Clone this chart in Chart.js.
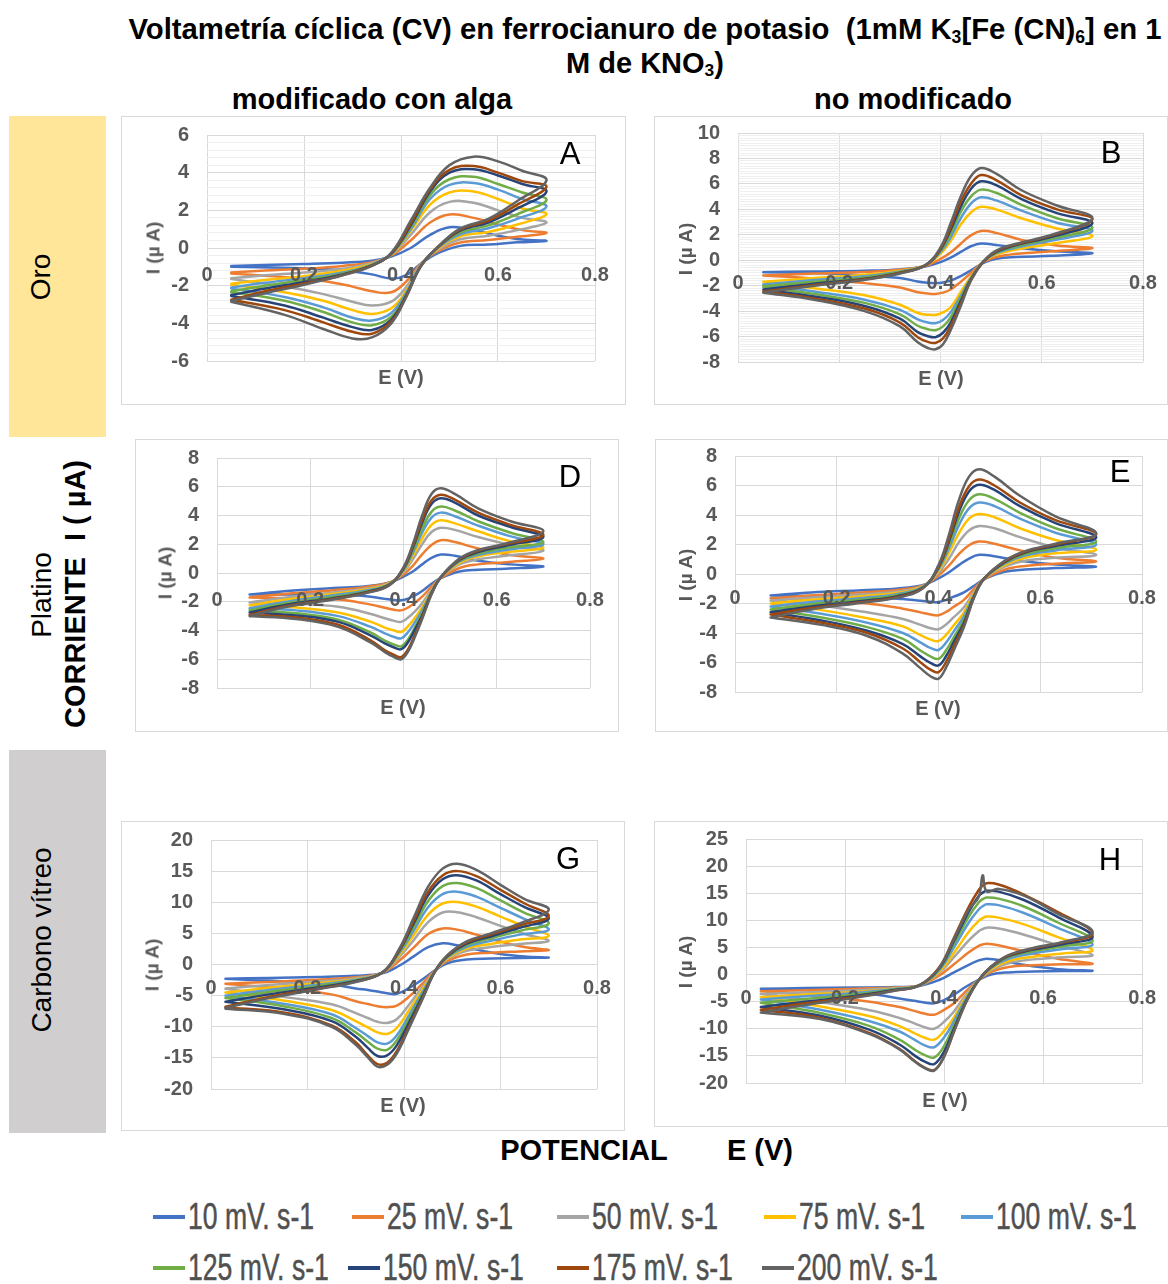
<!DOCTYPE html>
<html lang="es">
<head>
<meta charset="utf-8">
<title>Voltametría cíclica</title>
<script src="https://cdn.jsdelivr.net/npm/chart.js@4.4.1/dist/chart.umd.min.js"></script>
<style>
  html, body { margin: 0; padding: 0; background: #fff; }
  body { position: relative; width: 1168px; height: 1284px; overflow: hidden; font-family: "Liberation Sans", Arial, sans-serif; color: #000; }
  .t { position: absolute; white-space: pre; transform: translate(-50%, -50%); line-height: 1; z-index: 3; }
  .rot { transform: translate(-50%, -50%) rotate(-90deg); }
  .bold { font-weight: bold; }
  .panel { position: absolute; border: 1px solid #d9d9d9; box-sizing: border-box; background: #fff; }
  .panel canvas { position: absolute; left: -1px; top: -1px; }
  .axt { color: #595959; font-weight: bold; font-size: 20px; }
  .letter { font-size: 31px; }
  sub { font-size: 0.6em; vertical-align: -0.2em; line-height: 0; }
  .legline { position: absolute; height: 4px; width: 32px; }
  .legtxt { position: absolute; font-family: "Liberation Sans Narrow", "Liberation Sans", Arial, sans-serif; font-size: 36px; line-height: 36px; color: #505050; white-space: pre; transform-origin: 0 50%; -webkit-text-stroke: 0.5px #505050; }
</style>
</head>
<body>
<div class="t bold" style="left:645px;top:29px;font-size:29.3px">Voltametría cíclica (CV) en ferrocianuro de potasio  (1mM K<sub>3</sub>[Fe (CN)<sub>6</sub>] en 1</div>
<div class="t bold" style="left:645px;top:63px;font-size:29px">M de KNO<sub>3</sub>)</div>
<div class="t bold" style="left:372px;top:99px;font-size:29px">modificado con alga</div>
<div class="t bold" style="left:913px;top:99px;font-size:29px">no modificado</div>

<div style="position:absolute;left:9px;top:116px;width:97px;height:321px;background:#FFE699"></div>
<div style="position:absolute;left:9px;top:750px;width:97px;height:383px;background:#D0CECE"></div>
<div class="t rot" style="left:41px;top:277px;font-size:28px">Oro</div>
<div class="t rot" style="left:42px;top:595px;font-size:28px">Platino</div>
<div class="t rot bold" style="left:75px;top:594px;font-size:29px">CORRIENTE  I ( µA)</div>
<div class="t rot" style="left:42px;top:940px;font-size:28px">Carbono vítreo</div>

<div class="t bold" style="left:584px;top:1150px;font-size:29px">POTENCIAL</div>
<div class="t bold" style="left:760px;top:1150px;font-size:29px">E (V)</div>

<script>
// scan rates and their series colours
const scanRates = ['10 mV. s-1', '25 mV. s-1', '50 mV. s-1', '75 mV. s-1', '100 mV. s-1',
                   '125 mV. s-1', '150 mV. s-1', '175 mV. s-1', '200 mV. s-1'];
const seriesColors = ['#4472C4', '#ED7D31', '#A5A5A5', '#FFC000', '#5B9BD5',
                      '#70AD47', '#264478', '#9E480E', '#636363'];

const xTickLabels = [0, 0.2, 0.4, 0.6, 0.8];

// ---- A: oro, modificado con alga (I in µA) ----
const yTicksA = [-6, -4, -2, 0, 2, 4, 6];
const eFwdA = [0.05, 0.12, 0.20, 0.28, 0.34, 0.38, 0.42, 0.46, 0.50, 0.55, 0.60, 0.65, 0.70];
const eRevA = [0.64, 0.58, 0.52, 0.47, 0.44, 0.41, 0.38, 0.34, 0.30, 0.24, 0.16, 0.05];
const fwdA = [
  [-0.95, -0.9, -0.85, -0.78, -0.68, -0.45, 0.0, 0.7, 1.1, 0.95, 0.65, 0.45, 0.38],
  [-1.3, -1.2, -1.1, -0.95, -0.75, -0.4, 0.4, 1.35, 1.78, 1.6, 1.25, 0.95, 0.8],
  [-1.6, -1.45, -1.3, -1.1, -0.8, -0.35, 0.7, 1.9, 2.45, 2.4, 2.0, 1.6, 1.35],
  [-1.9, -1.7, -1.5, -1.2, -0.85, -0.35, 0.9, 2.3, 2.95, 3.0, 2.6, 2.1, 1.8],
  [-2.1, -1.85, -1.6, -1.3, -0.88, -0.33, 1.0, 2.6, 3.35, 3.45, 3.1, 2.6, 2.2],
  [-2.3, -2.0, -1.7, -1.35, -0.9, -0.32, 1.1, 2.8, 3.65, 3.78, 3.4, 2.95, 2.55],
  [-2.5, -2.15, -1.8, -1.4, -0.92, -0.3, 1.2, 3.0, 4.0, 4.18, 3.85, 3.4, 3.0],
  [-2.75, -2.3, -1.88, -1.43, -0.93, -0.28, 1.3, 3.1, 4.15, 4.35, 4.0, 3.55, 3.25],
  [-2.8, -2.4, -1.95, -1.45, -0.95, -0.25, 1.45, 3.2, 4.4, 4.85, 4.6, 4.1, 3.6]
];
const revA = [
  [0.3, 0.18, 0.1, -0.35, -0.85, -1.45, -1.62, -1.4, -1.25, -1.12, -1.05, -1.0],
  [0.6, 0.42, 0.28, -0.25, -0.85, -1.8, -2.35, -2.3, -2.05, -1.75, -1.55, -1.35],
  [0.95, 0.65, 0.45, -0.2, -0.9, -2.1, -2.85, -3.05, -2.85, -2.45, -2.05, -1.65],
  [1.25, 0.85, 0.6, -0.15, -0.95, -2.3, -3.2, -3.5, -3.3, -2.8, -2.35, -1.95],
  [1.55, 1.05, 0.7, -0.1, -0.95, -2.4, -3.45, -3.85, -3.7, -3.15, -2.6, -2.15],
  [1.8, 1.2, 0.8, -0.1, -1.0, -2.5, -3.65, -4.1, -3.95, -3.4, -2.8, -2.35],
  [2.1, 1.35, 0.9, -0.1, -1.0, -2.55, -3.8, -4.35, -4.2, -3.7, -3.05, -2.55],
  [2.3, 1.45, 0.95, -0.1, -1.0, -2.6, -3.9, -4.55, -4.45, -3.95, -3.3, -2.75],
  [2.5, 1.55, 1.0, -0.1, -1.0, -2.65, -4.0, -4.75, -4.8, -4.3, -3.55, -2.85]
];

// ---- B: oro, no modificado (no 50 mV/s trace) ----
const yTicksB = [-8, -6, -4, -2, 0, 2, 4, 6, 8, 10];
const eFwdB = [0.05, 0.15, 0.25, 0.32, 0.37, 0.40, 0.42, 0.44, 0.46, 0.48, 0.51, 0.56, 0.63, 0.70];
const eRevB = [0.62, 0.55, 0.51, 0.485, 0.46, 0.44, 0.42, 0.405, 0.39, 0.375, 0.355, 0.32, 0.25, 0.15, 0.05];
const fwdB = [
  [-0.95, -0.88, -0.82, -0.72, -0.5, -0.15, 0.2, 0.65, 1.1, 1.32, 1.2, 0.95, 0.7, 0.55],
  [-1.2, -1.05, -0.92, -0.75, -0.45, 0.1, 0.6, 1.3, 1.95, 2.3, 2.15, 1.6, 1.15, 0.95],
  null,
  [-1.7, -1.4, -1.15, -0.82, -0.4, 0.5, 1.5, 2.8, 3.75, 4.2, 4.0, 3.3, 2.5, 1.9],
  [-1.9, -1.55, -1.25, -0.88, -0.4, 0.65, 1.8, 3.3, 4.45, 4.95, 4.7, 3.9, 2.95, 2.3],
  [-2.05, -1.7, -1.35, -0.92, -0.4, 0.75, 2.1, 3.8, 5.0, 5.55, 5.3, 4.35, 3.3, 2.55],
  [-2.3, -1.85, -1.45, -0.98, -0.4, 0.85, 2.4, 4.2, 5.6, 6.2, 5.9, 4.8, 3.7, 2.9],
  [-2.45, -1.95, -1.5, -1.0, -0.4, 0.9, 2.6, 4.6, 6.0, 6.7, 6.3, 5.1, 4.0, 3.2],
  [-2.55, -2.0, -1.55, -1.05, -0.4, 1.0, 2.9, 5.0, 6.6, 7.25, 6.8, 5.5, 4.3, 3.3]
];
const revB = [
  [0.35, 0.25, 0.12, -0.2, -0.8, -1.25, -1.6, -1.75, -1.8, -1.77, -1.67, -1.4, -1.2, -1.0, -0.95],
  [0.7, 0.5, 0.25, -0.15, -1.0, -1.7, -2.3, -2.55, -2.65, -2.62, -2.52, -2.15, -1.8, -1.45, -1.2],
  null,
  [1.3, 0.85, 0.45, -0.1, -1.3, -2.5, -3.7, -4.1, -4.3, -4.28, -4.15, -3.5, -2.75, -2.2, -1.7],
  [1.55, 1.0, 0.55, -0.1, -1.4, -2.8, -4.1, -4.7, -4.95, -4.9, -4.65, -3.9, -3.1, -2.45, -1.9],
  [1.7, 1.1, 0.6, -0.1, -1.45, -3.0, -4.5, -5.2, -5.5, -5.42, -5.15, -4.25, -3.35, -2.65, -2.1],
  [1.85, 1.2, 0.65, -0.1, -1.5, -3.2, -4.9, -5.7, -6.05, -5.97, -5.65, -4.6, -3.6, -2.85, -2.3],
  [1.95, 1.25, 0.7, -0.1, -1.55, -3.4, -5.2, -6.15, -6.5, -6.42, -6.05, -4.9, -3.8, -3.0, -2.45],
  [2.0, 1.3, 0.75, -0.1, -1.6, -3.6, -5.5, -6.6, -7.0, -6.9, -6.45, -5.2, -4.0, -3.1, -2.55]
];

// ---- D: platino, modificado con alga ----
const yTicksD = [-8, -6, -4, -2, 0, 2, 4, 6, 8];
const eFwdD = [0.07, 0.15, 0.25, 0.32, 0.37, 0.40, 0.42, 0.44, 0.46, 0.48, 0.51, 0.56, 0.63, 0.70];
const eRevD = [0.62, 0.56, 0.52, 0.48, 0.46, 0.44, 0.425, 0.41, 0.395, 0.38, 0.36, 0.33, 0.26, 0.17, 0.07];
const fwdD = [
  [-1.5, -1.25, -1.05, -0.92, -0.65, -0.25, 0.1, 0.6, 1.05, 1.28, 1.2, 0.85, 0.6, 0.45],
  [-1.7, -1.45, -1.2, -0.97, -0.65, -0.1, 0.5, 1.3, 1.95, 2.28, 2.15, 1.7, 1.25, 1.0],
  [-2.05, -1.7, -1.35, -1.08, -0.7, 0.05, 0.95, 2.0, 2.85, 3.15, 3.0, 2.5, 1.95, 1.55],
  [-2.25, -1.85, -1.45, -1.15, -0.72, 0.12, 1.2, 2.4, 3.35, 3.67, 3.45, 2.9, 2.2, 1.75],
  [-2.45, -2.0, -1.55, -1.22, -0.75, 0.2, 1.4, 2.8, 3.85, 4.2, 3.95, 3.3, 2.55, 2.0],
  [-2.6, -2.1, -1.65, -1.28, -0.78, 0.25, 1.55, 3.1, 4.25, 4.62, 4.35, 3.6, 2.8, 2.15],
  [-2.75, -2.2, -1.75, -1.33, -0.8, 0.3, 1.75, 3.5, 4.8, 5.2, 4.9, 4.0, 3.2, 2.5],
  [-2.9, -2.3, -1.8, -1.37, -0.83, 0.35, 1.85, 3.7, 5.05, 5.45, 5.1, 4.2, 3.35, 2.65],
  [-3.0, -2.35, -1.85, -1.4, -0.85, 0.4, 2.0, 4.0, 5.5, 5.9, 5.5, 4.5, 3.6, 2.9]
];
const revD = [
  [0.3, 0.22, 0.1, -0.35, -0.75, -1.25, -1.55, -1.78, -1.9, -1.88, -1.8, -1.65, -1.5, -1.5, -1.5],
  [0.75, 0.6, 0.35, -0.35, -0.95, -1.65, -2.05, -2.4, -2.6, -2.56, -2.42, -2.2, -1.85, -1.75, -1.7],
  [1.2, 0.95, 0.6, -0.3, -1.15, -2.1, -2.65, -3.1, -3.4, -3.33, -3.15, -2.85, -2.35, -2.15, -2.05],
  [1.45, 1.15, 0.7, -0.3, -1.25, -2.4, -3.1, -3.7, -4.1, -4.0, -3.8, -3.4, -2.75, -2.4, -2.25],
  [1.6, 1.25, 0.8, -0.3, -1.3, -2.6, -3.4, -4.1, -4.55, -4.45, -4.2, -3.75, -3.0, -2.6, -2.45],
  [1.75, 1.35, 0.85, -0.3, -1.35, -2.8, -3.75, -4.6, -5.1, -4.98, -4.7, -4.15, -3.25, -2.8, -2.6],
  [1.9, 1.45, 0.9, -0.3, -1.4, -2.95, -3.9, -4.8, -5.3, -5.18, -4.9, -4.35, -3.4, -2.95, -2.75],
  [2.0, 1.55, 0.95, -0.3, -1.45, -3.1, -4.25, -5.3, -5.85, -5.7, -5.38, -4.7, -3.6, -3.1, -2.9],
  [2.05, 1.6, 1.0, -0.3, -1.5, -3.2, -4.4, -5.45, -6.0, -5.85, -5.5, -4.85, -3.75, -3.2, -3.0]
];

// ---- E: platino, no modificado ----
const yTicksE = [-8, -6, -4, -2, 0, 2, 4, 6, 8];
const eFwdE = [0.07, 0.15, 0.25, 0.32, 0.37, 0.40, 0.42, 0.44, 0.46, 0.48, 0.51, 0.56, 0.63, 0.71];
const eRevE = [0.63, 0.57, 0.53, 0.49, 0.47, 0.45, 0.43, 0.415, 0.40, 0.385, 0.365, 0.33, 0.26, 0.17, 0.07];
const fwdE = [
  [-1.45, -1.25, -1.1, -0.98, -0.75, -0.3, 0.1, 0.6, 1.05, 1.3, 1.2, 0.9, 0.65, 0.5],
  [-1.65, -1.45, -1.25, -1.08, -0.78, -0.1, 0.55, 1.35, 1.95, 2.2, 2.05, 1.6, 1.1, 0.85],
  [-1.8, -1.6, -1.38, -1.18, -0.8, 0.08, 1.0, 2.15, 2.95, 3.25, 3.1, 2.5, 1.8, 1.3],
  [-2.0, -1.75, -1.5, -1.27, -0.82, 0.2, 1.4, 2.75, 3.75, 4.07, 3.85, 3.1, 2.3, 1.65],
  [-2.2, -1.9, -1.62, -1.35, -0.85, 0.32, 1.7, 3.3, 4.45, 4.84, 4.6, 3.75, 2.8, 2.0],
  [-2.4, -2.05, -1.73, -1.43, -0.88, 0.4, 1.95, 3.75, 5.0, 5.4, 5.1, 4.15, 3.1, 2.2],
  [-2.6, -2.2, -1.83, -1.5, -0.9, 0.45, 2.15, 4.2, 5.6, 6.05, 5.7, 4.6, 3.45, 2.5],
  [-2.75, -2.3, -1.9, -1.55, -0.93, 0.5, 2.3, 4.5, 5.95, 6.4, 6.0, 4.85, 3.65, 2.7],
  [-2.95, -2.4, -1.95, -1.6, -0.95, 0.6, 2.6, 5.0, 6.6, 7.1, 6.6, 5.3, 3.9, 2.75]
];
const revE = [
  [0.4, 0.3, 0.15, -0.35, -0.8, -1.25, -1.54, -1.76, -1.9, -1.88, -1.82, -1.7, -1.55, -1.5, -1.45],
  [0.7, 0.55, 0.3, -0.35, -1.0, -1.75, -2.22, -2.57, -2.8, -2.75, -2.6, -2.35, -2.0, -1.8, -1.65],
  [1.1, 0.9, 0.5, -0.3, -1.2, -2.25, -2.93, -3.42, -3.75, -3.68, -3.45, -3.05, -2.6, -2.15, -1.8],
  [1.4, 1.1, 0.6, -0.3, -1.3, -2.6, -3.48, -4.12, -4.55, -4.45, -4.15, -3.55, -3.0, -2.45, -2.0],
  [1.6, 1.25, 0.7, -0.3, -1.4, -2.85, -3.89, -4.64, -5.15, -5.03, -4.65, -4.0, -3.3, -2.7, -2.2],
  [1.75, 1.35, 0.75, -0.3, -1.45, -3.1, -4.29, -5.17, -5.75, -5.6, -5.2, -4.4, -3.6, -2.95, -2.4],
  [1.9, 1.45, 0.8, -0.3, -1.5, -3.3, -4.6, -5.56, -6.2, -6.05, -5.6, -4.75, -3.85, -3.15, -2.6],
  [2.0, 1.5, 0.85, -0.3, -1.55, -3.45, -4.89, -5.95, -6.65, -6.5, -6.0, -5.05, -4.0, -3.3, -2.75],
  [2.05, 1.55, 0.9, -0.3, -1.6, -3.6, -5.18, -6.33, -7.1, -6.95, -6.4, -5.4, -4.2, -3.45, -2.95]
];

// ---- G: carbono vítreo, modificado con alga ----
const yTicksG = [-20, -15, -10, -5, 0, 5, 10, 15, 20];
const eFwdG = [0.03, 0.12, 0.22, 0.30, 0.355, 0.39, 0.42, 0.45, 0.48, 0.51, 0.55, 0.60, 0.65, 0.70];
const eRevG = [0.64, 0.58, 0.53, 0.49, 0.465, 0.44, 0.41, 0.385, 0.365, 0.345, 0.325, 0.30, 0.25, 0.15, 0.03];
const fwdG = [
  [-2.3, -2.15, -2.0, -1.8, -1.4, -0.2, 1.3, 2.8, 3.4, 3.1, 2.4, 1.7, 1.3, 1.1],
  [-3.1, -2.8, -2.45, -2.05, -1.35, 0.6, 2.7, 4.9, 5.8, 5.6, 4.8, 3.7, 2.8, 2.3],
  [-3.85, -3.3, -2.75, -2.2, -1.3, 1.2, 3.9, 6.8, 8.35, 8.4, 7.6, 6.2, 4.9, 3.8],
  [-4.5, -3.75, -3.0, -2.35, -1.3, 1.5, 4.7, 8.0, 9.8, 10.05, 9.3, 7.7, 6.1, 4.6],
  [-5.0, -4.1, -3.25, -2.45, -1.3, 1.8, 5.4, 9.2, 11.3, 11.7, 10.9, 9.1, 7.3, 5.6],
  [-5.4, -4.4, -3.45, -2.55, -1.3, 2.0, 6.0, 10.2, 12.6, 13.1, 12.3, 10.3, 8.3, 6.6],
  [-6.0, -4.8, -3.7, -2.65, -1.3, 2.2, 6.6, 11.1, 13.7, 14.35, 13.5, 11.3, 9.2, 7.4],
  [-6.8, -5.2, -3.9, -2.75, -1.3, 2.3, 7.0, 11.7, 14.3, 15.0, 14.2, 12.0, 9.8, 7.8],
  [-7.0, -5.4, -4.0, -2.8, -1.3, 2.5, 7.5, 12.5, 15.4, 16.2, 15.2, 12.8, 10.5, 8.8]
];
const revG = [
  [1.05, 0.95, 0.8, 0.2, -0.9, -2.3, -3.8, -4.72, -4.6, -4.35, -4.1, -3.85, -3.2, -2.7, -2.3],
  [2.1, 1.9, 1.6, 0.6, -0.9, -2.9, -5.2, -6.6, -6.85, -6.7, -6.35, -5.9, -4.8, -3.9, -3.1],
  [3.3, 2.8, 2.2, 0.9, -1.0, -3.4, -6.5, -8.8, -9.4, -9.2, -8.6, -7.8, -6.4, -5.2, -3.9],
  [4.0, 3.3, 2.55, 1.0, -1.0, -3.8, -7.4, -10.2, -11.15, -10.9, -10.1, -9.1, -7.3, -5.8, -4.5],
  [4.8, 3.8, 2.85, 1.15, -1.0, -4.2, -8.2, -11.4, -12.7, -12.5, -11.5, -10.2, -8.0, -6.3, -5.0],
  [5.4, 4.2, 3.1, 1.25, -1.0, -4.5, -8.8, -12.2, -13.7, -13.5, -12.4, -10.9, -8.6, -6.7, -5.4],
  [5.9, 4.5, 3.35, 1.35, -1.0, -4.8, -9.4, -13.0, -14.6, -14.7, -13.4, -11.6, -9.1, -7.2, -6.0],
  [6.3, 4.8, 3.55, 1.45, -1.0, -5.1, -10.0, -13.9, -15.8, -16.0, -14.6, -12.5, -9.8, -7.7, -6.9],
  [6.6, 5.0, 3.7, 1.5, -1.0, -5.3, -10.3, -14.3, -16.1, -16.4, -14.9, -12.9, -10.0, -7.9, -7.1]
];

// ---- H: carbono vítreo, no modificado ----
const yTicksH = [-20, -15, -10, -5, 0, 5, 10, 15, 20, 25];
const eFwdH = [0.03, 0.12, 0.22, 0.30, 0.35, 0.39, 0.42, 0.45, 0.47, 0.478, 0.486, 0.51, 0.56, 0.63, 0.70];
const eRevH = [0.64, 0.58, 0.53, 0.495, 0.47, 0.445, 0.42, 0.40, 0.38, 0.36, 0.34, 0.31, 0.25, 0.15, 0.03];
const fwdH = [
  [-2.6, -2.5, -2.4, -2.3, -2.1, -1.0, 0.4, 1.8, 2.6, 2.8, 2.9, 2.7, 1.8, 1.0, 0.7],
  [-3.1, -2.9, -2.6, -2.4, -2.0, -0.2, 1.9, 4.1, 5.3, 5.55, 5.7, 5.4, 4.3, 2.9, 2.0],
  [-3.6, -3.3, -2.9, -2.5, -2.0, 0.3, 3.2, 6.3, 8.0, 8.4, 8.65, 8.5, 7.4, 5.4, 3.6],
  [-4.2, -3.7, -3.2, -2.6, -2.0, 0.5, 4.0, 7.9, 9.9, 10.4, 10.7, 10.5, 9.3, 6.9, 4.5],
  [-4.6, -4.0, -3.4, -2.65, -2.0, 0.8, 5.0, 9.6, 12.0, 12.6, 12.95, 12.8, 11.4, 8.6, 5.6],
  [-5.2, -4.5, -3.7, -2.75, -2.0, 1.0, 5.7, 10.7, 13.3, 13.9, 14.2, 14.0, 12.6, 9.6, 6.3],
  [-6.0, -5.0, -3.95, -2.85, -2.0, 1.1, 6.2, 11.6, 14.5, 15.1, 15.45, 15.3, 13.8, 10.6, 7.0],
  [-6.5, -5.3, -4.15, -2.95, -2.0, 1.3, 6.8, 12.5, 15.6, 16.4, 16.85, 16.6, 14.8, 11.5, 7.6],
  [-7.0, -5.6, -4.3, -3.0, -2.0, 1.2, 6.5, 12.0, 14.3, 18.3, 15.3, 15.8, 14.6, 11.2, 7.9]
];
const revH = [
  [0.65, 0.55, 0.4, 0.0, -1.0, -2.2, -3.7, -4.7, -5.3, -5.15, -4.85, -4.4, -3.6, -3.0, -2.6],
  [1.9, 1.7, 1.4, 0.5, -1.0, -3.0, -5.3, -6.5, -7.4, -7.2, -6.7, -6.0, -5.0, -4.0, -3.1],
  [3.2, 2.8, 2.1, 0.8, -1.0, -3.6, -6.8, -8.7, -10.0, -9.7, -9.0, -8.0, -6.6, -5.1, -3.6],
  [3.9, 3.3, 2.5, 1.0, -1.0, -4.0, -7.9, -10.4, -12.0, -11.6, -10.8, -9.5, -7.7, -5.9, -4.2],
  [4.7, 3.9, 2.9, 1.2, -1.0, -4.3, -8.6, -11.6, -13.4, -13.0, -12.0, -10.5, -8.6, -6.5, -4.6],
  [5.2, 4.3, 3.2, 1.3, -1.0, -4.6, -9.4, -13.2, -15.3, -14.8, -13.8, -12.0, -9.5, -7.1, -5.2],
  [5.6, 4.6, 3.4, 1.4, -1.0, -4.8, -10.0, -14.2, -16.5, -16.0, -14.9, -12.9, -10.2, -7.6, -6.0],
  [5.9, 4.8, 3.5, 1.45, -1.0, -5.0, -10.5, -15.1, -17.6, -17.1, -15.9, -13.7, -10.8, -8.0, -6.5],
  [6.0, 4.9, 3.6, 1.5, -1.0, -5.0, -10.5, -15.2, -17.7, -17.2, -16.0, -13.8, -11.0, -8.2, -7.0]
];

// layout of each panel: outer box [x, y, w, h] and plot area [left, top, right, bottom] in page pixels
const panels = [
  {letter: 'A', box: [121, 116, 505, 289], plot: [207, 135, 595, 361], yMin: -6, yMax: 6, yStep: 0.4, yTicks: yTicksA, xPad: 15,
   eFwd: eFwdA, eRev: eRevA, fwd: fwdA, rev: revA, letterAt: [570, 153], yTitleAt: [153, 248], xTitleAt: [401, 377]},
  {letter: 'B', box: [654, 116, 514, 289], plot: [738, 133, 1143, 362], yMin: -8, yMax: 10, yStep: 0.2, yTicks: yTicksB, xPad: 11,
   eFwd: eFwdB, eRev: eRevB, fwd: fwdB, rev: revB, letterAt: [1111, 152], yTitleAt: [685, 249], xTitleAt: [941, 378]},
  {letter: 'D', box: [135, 439, 484, 293], plot: [217, 458, 590, 688], yMin: -8, yMax: 8, yStep: 2, yTicks: yTicksD, xPad: 15,
   eFwd: eFwdD, eRev: eRevD, fwd: fwdD, rev: revD, letterAt: [570, 476], yTitleAt: [165, 573], xTitleAt: [403, 707]},
  {letter: 'E', box: [655, 439, 513, 293], plot: [735, 456, 1142, 692], yMin: -8, yMax: 8, yStep: 2, yTicks: yTicksE, xPad: 12,
   eFwd: eFwdE, eRev: eRevE, fwd: fwdE, rev: revE, letterAt: [1120, 471], yTitleAt: [685, 575], xTitleAt: [938, 708]},
  {letter: 'G', box: [121, 821, 504, 310], plot: [211, 840, 597, 1089], yMin: -20, yMax: 20, yStep: 5, yTicks: yTicksG, xPad: 12,
   eFwd: eFwdG, eRev: eRevG, fwd: fwdG, rev: revG, letterAt: [568, 858], yTitleAt: [152, 965], xTitleAt: [403, 1105]},
  {letter: 'H', box: [654, 821, 514, 306], plot: [746, 839, 1145, 1083], yMin: -20, yMax: 25, yStep: 5, yTicks: yTicksH, xPad: 12,
   eFwd: eFwdH, eRev: eRevH, fwd: fwdH, rev: revH, letterAt: [1110, 859], yTitleAt: [685, 962], xTitleAt: [945, 1100]}
];

const tickFont = {family: 'Liberation Sans', size: 20, weight: 'bold'};
const near = (a, b) => Math.abs(a - b) < 1e-6;

function addText(txt, x, y, cls, style) {
  const d = document.createElement('div');
  d.className = 't ' + cls;
  d.textContent = txt;
  d.style.left = x + 'px';
  d.style.top = y + 'px';
  if (style) d.style.cssText += style;
  document.body.appendChild(d);
}

function makePanel(p) {
  const [bx, by, bw, bh] = p.box;
  const [pl, pt, pr, pb] = p.plot;
  const wrap = document.createElement('div');
  wrap.className = 'panel';
  wrap.style.left = bx + 'px';
  wrap.style.top = by + 'px';
  wrap.style.width = bw + 'px';
  wrap.style.height = bh + 'px';
  const cv = document.createElement('canvas');
  cv.width = bw;
  cv.height = bh;
  wrap.appendChild(cv);
  document.body.appendChild(wrap);

  const datasets = [];
  p.fwd.forEach((f, k) => {
    if (!f) return;
    const r = p.rev[k];
    const pts = p.eFwd.map((e, i) => ({x: e, y: f[i]}))
      .concat(p.eRev.map((e, i) => ({x: e, y: r[i]})));
    datasets.push({
      label: scanRates[k],
      data: pts,
      borderColor: seriesColors[k],
      backgroundColor: seriesColors[k],
      order: 8 - k
    });
  });

  const isMajor = v => p.yTicks.some(t => near(t, v));

  new Chart(cv, {
    type: 'scatter',
    data: {datasets},
    options: {
      responsive: false,
      animation: false,
      devicePixelRatio: 1,
      showLine: true,
      layout: {padding: {left: 0, top: pt - by, right: bx + bw - pr, bottom: by + bh - pb}},
      elements: {
        point: {radius: 0, hoverRadius: 0},
        line: {tension: 0.4, borderWidth: 2.5, borderCapStyle: 'round', borderJoinStyle: 'round', fill: false}
      },
      plugins: {legend: {display: false}, tooltip: {enabled: false}},
      scales: {
        x: {
          type: 'linear', min: 0, max: 0.8,
          position: {y: 0},
          grid: {color: '#d9d9d9', lineWidth: 1, drawTicks: false},
          border: {color: '#d9d9d9', width: 1},
          ticks: {
            stepSize: 0.2, padding: p.xPad, color: '#595959', font: tickFont, z: 1, autoSkip: false, maxRotation: 0,
            callback: v => {
              const t = xTickLabels.find(l => near(l, v));
              return t === undefined ? '' : String(t);
            }
          }
        },
        y: {
          type: 'linear', min: p.yMin, max: p.yMax,
          // invisible tick marks keep the labels away from the plot without padding the top
          grid: {color: ctx => isMajor(ctx.tick.value) ? '#d9d9d9' : '#efefef', lineWidth: 1,
                 drawTicks: true, tickLength: 18, tickColor: 'rgba(0,0,0,0)'},
          border: {display: false},
          ticks: {
            stepSize: p.yStep, padding: 0, color: '#595959', font: tickFont, autoSkip: false,
            callback: v => {
              const t = p.yTicks.find(l => near(l, v));
              return t === undefined ? '' : String(t);
            }
          },
          afterFit: s => { s.width = pl - bx; }
        }
      }
    }
  });

  addText(p.letter, p.letterAt[0], p.letterAt[1], 'letter');
  addText('I (µ A)', p.yTitleAt[0], p.yTitleAt[1], 'rot axt', 'font-size:19px');
  addText('E (V)', p.xTitleAt[0], p.xTitleAt[1], 'axt');
}

panels.forEach(makePanel);

// legend below the panels
const legendRows = [[0, 1, 2, 3, 4], [5, 6, 7, 8]];
const legendRowY = [1217, 1268];
const legendStartX = [[153, 352, 557, 764, 961], [153, 348, 557, 762]];
const spans = [];
legendRows.forEach((row, ri) => {
  row.forEach((k, ci) => {
    const x = legendStartX[ri][ci];
    const y = legendRowY[ri];
    const ln = document.createElement('div');
    ln.className = 'legline';
    ln.style.left = x + 'px';
    ln.style.top = (y - 2) + 'px';
    ln.style.background = seriesColors[k];
    document.body.appendChild(ln);
    const tx = document.createElement('div');
    tx.className = 'legtxt';
    tx.textContent = scanRates[k];
    tx.style.left = (x + 35) + 'px';
    tx.style.top = (y - 18) + 'px';
    document.body.appendChild(tx);
    spans.push(tx);
  });
});
// squeeze the legend text to the narrow width seen in the figure ("50 mV. s-1" is about 126px wide)
const refW = spans[2].getBoundingClientRect().width;
const sx = 126 / refW;
spans.forEach(s => { s.style.transform = 'scaleX(' + sx.toFixed(3) + ')'; });
</script>
</body>
</html>
